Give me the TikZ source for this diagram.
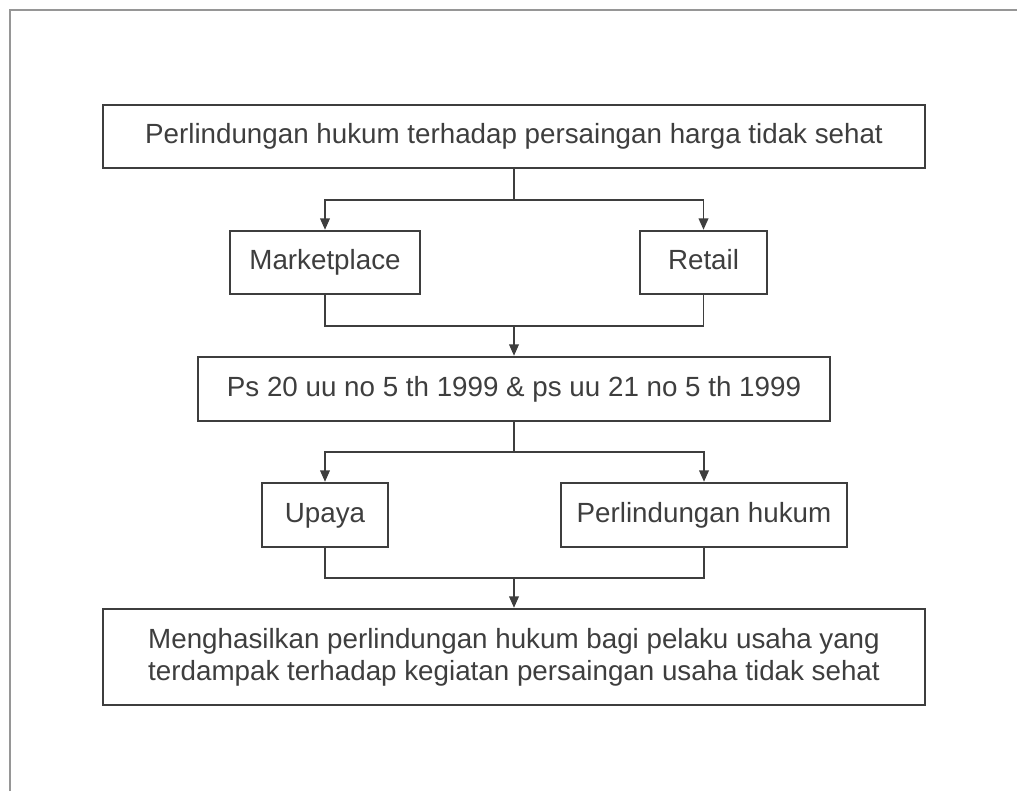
\documentclass[tikz,border=0pt]{standalone}
\usepackage{fontspec}
\setmainfont{Liberation Sans}
\usetikzlibrary{arrows.meta}
\definecolor{linec}{RGB}{62,62,62}
\definecolor{framec}{RGB}{150,150,150}
\tikzset{
  box/.style={draw=linec,line width=1.4pt,text=linec,inner sep=0pt,minimum height=1.26cm,
    text height=11.4pt,text depth=2.9pt},
  link/.style={draw=linec,line width=.9pt},
}
\begin{document}
\begin{tikzpicture}[x=.02cm,y=-.02cm,>={Triangle[length=6.5pt,width=5.5pt]},font=\fontsize{15.8}{18.2}\selectfont]
\useasboundingbox (0,0) rectangle (1017,791);
\draw[framec,line width=.8pt] (10,791)--(10,10)--(1017,10);
% boxes
\node[box,minimum width=16.44cm] (top) at (514,136.5) {Perlindungan hukum terhadap persaingan harga tidak sehat};
\node[box,minimum width=3.8cm] (market) at (325,262.5) {Marketplace};
\node[box,minimum width=2.54cm] (retail) at (703.5,262.5) {Retail};
\node[box,minimum width=12.64cm,minimum height=1.28cm] (pasal) at (514,389) {Ps 20 uu no 5 th 1999 \& ps uu 21 no 5 th 1999};
\node[box,minimum width=2.52cm,minimum height=1.28cm] (upaya) at (325,515) {Upaya};
\node[box,minimum width=5.72cm,minimum height=1.28cm] (lindung) at (704,515) {Perlindungan hukum};
\node[box,minimum width=16.44cm,minimum height=1.92cm,align=center,text height=,text depth=] (hasil) at (514,657) {Menghasilkan perlindungan hukum bagi pelaku usaha yang\\terdampak terhadap kegiatan persaingan usaha tidak sehat};
% junctions
\coordinate (split1) at (514,200);
\coordinate (join1) at (514,326);
\coordinate (split2) at (514,452);
\coordinate (join2) at (514,578);
% connectors
\draw[link] (top)--(split1);
\draw[link,->] (split1)-|(market);
\draw[link,->] (split1)-|(retail);
\draw[link] (market)|-(join1)-|(retail);
\draw[link,->] (join1)--(pasal);
\draw[link] (pasal)--(split2);
\draw[link,->] (split2)-|(upaya);
\draw[link,->] (split2)-|(lindung);
\draw[link] (upaya)|-(join2)-|(lindung);
\draw[link,->] (join2)--(hasil);
\end{tikzpicture}
\end{document}
